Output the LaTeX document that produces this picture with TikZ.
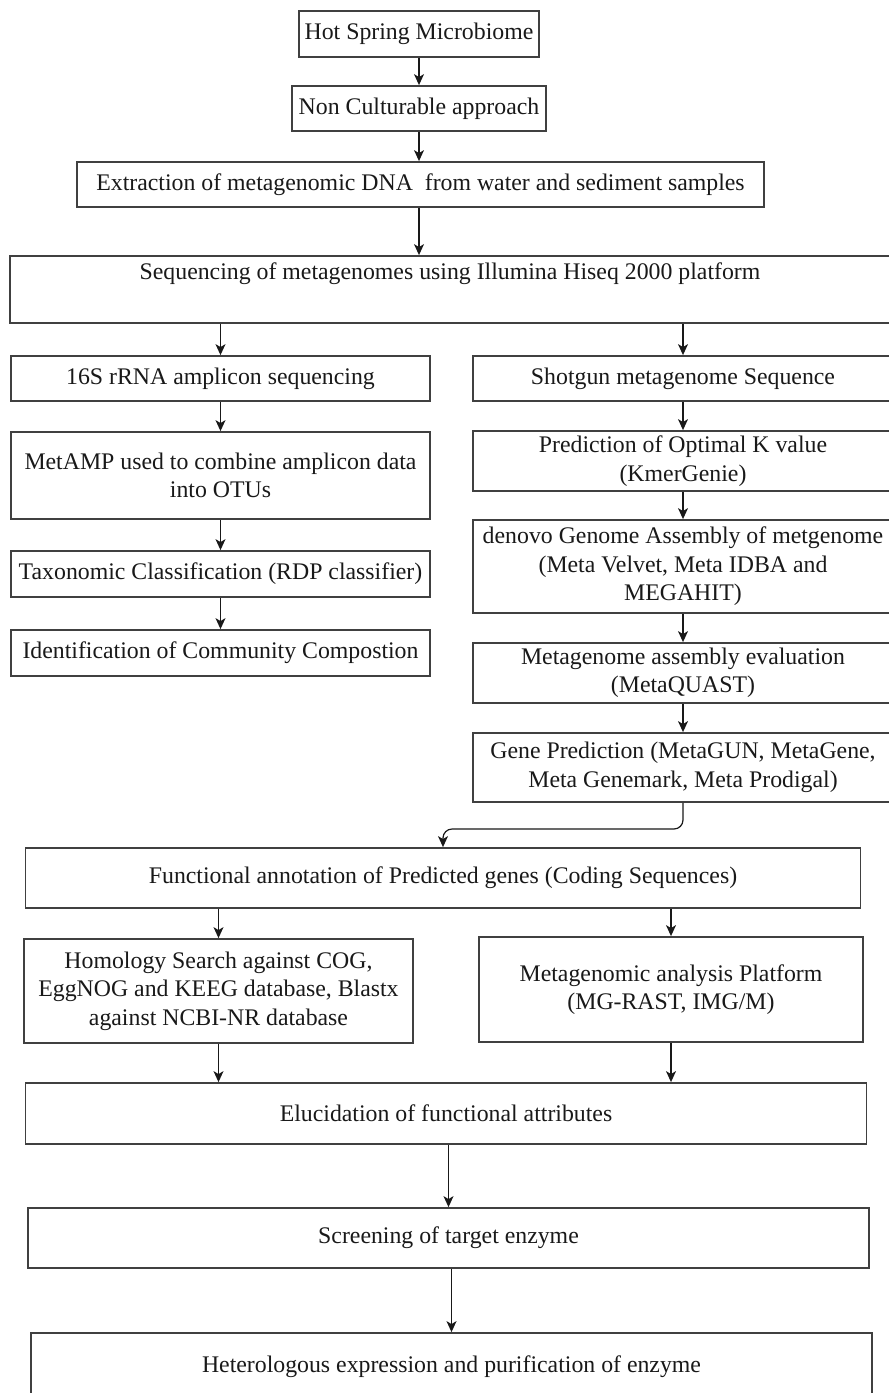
\documentclass[tikz,border=0pt]{standalone}
\usepackage{fontspec}
\setmainfont{Liberation Serif}
\usetikzlibrary{arrows.meta}

\begin{document}
\begin{tikzpicture}[x=1pt,y=-1pt,
  box/.style={draw=black!75, line width=1.8pt, inner sep=0pt, align=center,
    font=\fontsize{23.8}{28.5}\selectfont, text=black!90},
  arr/.style={-{Stealth[length=11pt,width=10pt,inset=3pt]}, line width=1.2pt, draw=black!90},
]
\useasboundingbox (0,0) rectangle (889,1393);
\fill[white] (0,0) rectangle (889,1393);
\clip (0,0) rectangle (889,1393);

% main trunk
\node[box, minimum width=240, minimum height=46] (hot) at (419,34) {Hot Spring Microbiome};
\node[box, minimum width=254, minimum height=45] (noncult) at (419,108.5) {Non Culturable approach};
\node[box, minimum width=687, minimum height=45] (extract) at (420.5,184.5) {Extraction of metagenomic DNA~ from water and sediment samples};
\node[box, minimum width=880, minimum height=67] (seqn) at (450,289.5) {Sequencing of metagenomes using Illumina Hiseq 2000 platform\\ \strut};

% amplicon branch
\node[box, minimum width=419, minimum height=45] (amp) at (220.5,378.5) {16S rRNA amplicon sequencing};
\node[box, minimum width=419, minimum height=87] (metamp) at (220.5,475.5) {MetAMP used to combine amplicon data\\into OTUs};
\node[box, minimum width=419, minimum height=46] (taxo) at (220.5,574) {Taxonomic Classification (RDP classifier)};
\node[box, minimum width=419, minimum height=46] (ident) at (220.5,653) {Identification of Community Compostion};

% shotgun branch
\node[box, minimum width=420, minimum height=45] (shot) at (683,378.5) {Shotgun metagenome Sequence};
\node[box, minimum width=420, minimum height=60] (kmer) at (683,461) {Prediction of Optimal K value\\(KmerGenie)};
\node[box, minimum width=420, minimum height=93] (denovo) at (683,566.5) {denovo Genome Assembly of metgenome\\(Meta Velvet, Meta IDBA and\\MEGAHIT)};
\node[box, minimum width=420, minimum height=60] (quast) at (683,673) {Metagenome assembly evaluation\\(MetaQUAST)};
\node[box, minimum width=420, minimum height=69] (genepred) at (683,767.5) {Gene Prediction (MetaGUN, MetaGene,\\Meta Genemark, Meta Prodigal)};

% annotation and downstream
\node[box, minimum width=835, minimum height=60] (func) at (443,878) {Functional annotation of Predicted genes (Coding Sequences)};
\node[box, minimum width=389, minimum height=104] (homol) at (218.5,991) {Homology Search against COG,\\EggNOG and KEEG database, Blastx\\against NCBI-NR database};
\node[box, minimum width=384, minimum height=105] (mgplat) at (671,989.5) {Metagenomic analysis Platform\\(MG-RAST, IMG/M)};
\node[box, minimum width=841, minimum height=61] (eluc) at (446,1113.5) {Elucidation of functional attributes};
\node[box, minimum width=841, minimum height=60] (screen) at (448.5,1238) {Screening of target enzyme};
\node[box, minimum width=841, minimum height=68] (hetero) at (451.5,1367) {Heterologous expression and purification of enzyme};

% connectors
\draw[arr] (hot) -- (noncult);
\draw[arr] (noncult) -- (extract.north -| noncult.south);
\draw[arr] (extract.south -| noncult.south) -- (seqn.north -| noncult.south);
\draw[arr] (seqn.south -| amp.north) -- (amp.north);
\draw[arr] (seqn.south -| shot.north) -- (shot.north);
\draw[arr] (amp) -- (metamp);
\draw[arr] (metamp) -- (taxo);
\draw[arr] (taxo) -- (ident);
\draw[arr] (shot) -- (kmer);
\draw[arr] (kmer) -- (denovo);
\draw[arr] (denovo) -- (quast);
\draw[arr] (quast) -- (genepred);
\coordinate (turn) at (443,829);
\draw[arr, rounded corners=9pt] (genepred.south) |- (turn) -- (func.north);
\draw[arr] (func.south -| homol.north) -- (homol.north);
\draw[arr] (func.south -| mgplat.north) -- (mgplat.north);
\draw[arr] (homol.south) -- (eluc.north -| homol.south);
\draw[arr] (mgplat.south) -- (eluc.north -| mgplat.south);
\draw[arr] (eluc.south -| screen.north) -- (screen.north);
\draw[arr] (screen.south -| hetero.north) -- (hetero.north);
\end{tikzpicture}
\end{document}
